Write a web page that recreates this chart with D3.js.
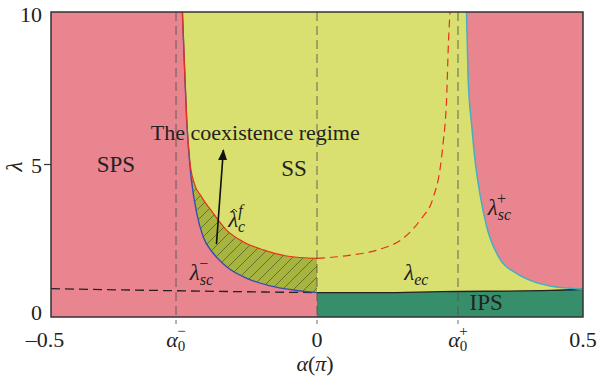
<!DOCTYPE html>
<html lang="en">
<head>
<meta charset="UTF-8">
<title>Phase diagram</title>
<script src="https://d3js.org/d3.v7.min.js"></script>
<style>
  body { margin: 0; background: #fff; }
  text { font-family: "Liberation Serif", "Times New Roman", serif; fill: #222; }
</style>
</head>
<body>
<div id="chart"></div>
<script>
// axis ticks
const alphaTicks = [-0.5, -0.265, 0, 0.265, 0.5];
const alphaTickLabels = ["\u20130.5", "a-", "0", "a+", "0.5"];
const lambdaTicks = [0, 5, 10];

// boundary curves, [alpha, lambda]
const scMinus = [[-0.253, 10], [-0.249, 8.2], [-0.245, 6.5], [-0.240, 5.2], [-0.236, 4.49],
  [-0.226, 3.4], [-0.214, 2.63], [-0.195, 2.09], [-0.170, 1.65], [-0.132, 1.27],
  [-0.088, 1.02], [-0.038, 0.87], [0, 0.8]];
const cfHat = [[-0.253, 10], [-0.249, 8.2], [-0.245, 6.5], [-0.239, 5.1], [-0.231, 4.4],
  [-0.217, 3.94], [-0.195, 3.4], [-0.170, 2.85], [-0.139, 2.47], [-0.101, 2.2],
  [-0.057, 2.0], [0, 1.92]];
const cfHatDashed = [[0, 1.92], [0.06, 2.02], [0.118, 2.22], [0.162, 2.58], [0.194, 3.18],
  [0.219, 3.94], [0.231, 4.82], [0.237, 5.69], [0.244, 7.33], [0.247, 8.97], [0.25, 10]];
const scPlus = [[0.281, 10], [0.284, 7.88], [0.291, 6.24], [0.297, 5.15], [0.306, 4.06],
  [0.319, 2.96], [0.341, 1.98], [0.375, 1.43], [0.407, 1.16], [0.438, 1.02],
  [0.47, 0.95], [0.5, 0.91]];
const ecLine = [[0, 0.8], [0.12, 0.8], [0.23, 0.83], [0.44, 0.87], [0.5, 0.91]];
const ecDashed = [[-0.5, 0.93], [-0.3, 0.87], [-0.1, 0.82], [0, 0.8]];

const width = 598, height = 382;
const margin = { top: 12, right: 15, bottom: 65, left: 51 };

const x = d3.scaleLinear().domain([-0.5, 0.5]).range([margin.left, width - margin.right]);
const y = d3.scaleLinear().domain([0, 10]).range([height - margin.bottom, margin.top]);

const svg = d3.select("#chart").append("svg")
  .attr("width", width).attr("height", height);

const defs = svg.append("defs");
defs.append("clipPath").attr("id", "clip").append("rect")
  .attr("x", x(-0.5)).attr("y", y(10))
  .attr("width", x(0.5) - x(-0.5)).attr("height", y(0) - y(10));

const hatch = defs.append("pattern").attr("id", "hatch")
  .attr("patternUnits", "userSpaceOnUse").attr("width", 11).attr("height", 11);
hatch.append("rect").attr("width", 11).attr("height", 11).attr("fill", "#a8b440");
hatch.append("path").attr("d", "M-3,3 l6,-6 M0,11 l11,-11 M8,14 l6,-6")
  .attr("stroke", "#55611f").attr("stroke-width", 0.8);

const line = d3.line().x(d => x(d[0])).y(d => y(d[1])).curve(d3.curveMonotoneX);
const seg = pts => line(pts).replace(/^M/, "L");

const plot = svg.append("g").attr("clip-path", "url(#clip)");

// SPS background
plot.append("rect")
  .attr("x", x(-0.5)).attr("y", y(10))
  .attr("width", x(0.5) - x(-0.5)).attr("height", y(0) - y(10))
  .attr("fill", "#e9858f");

// SS region
plot.append("path")
  .attr("d", line(scMinus) + seg(ecLine) + seg(scPlus.slice().reverse()) + "Z")
  .attr("fill", "#d9e070");

// coexistence (hatched)
plot.append("path")
  .attr("d", line(cfHat) + seg(scMinus.slice().reverse()) + "Z")
  .attr("fill", "url(#hatch)");

// IPS region
plot.append("path")
  .attr("d", line(ecLine) + seg([[0.5, 0], [0, 0]]) + "Z")
  .attr("fill", "#378e6b");

// vertical guide lines
[alphaTicks[1], alphaTicks[2], alphaTicks[3]].forEach(a => {
  svg.append("line")
    .attr("x1", x(a)).attr("x2", x(a))
    .attr("y1", y(10)).attr("y2", y(0) + 7)
    .attr("stroke", "#555").attr("stroke-opacity", 0.8)
    .attr("stroke-width", 1.1).attr("stroke-dasharray", "9,5");
});

// curves
plot.append("path").attr("d", line(ecDashed)).attr("fill", "none")
  .attr("stroke", "#222").attr("stroke-width", 1.3).attr("stroke-dasharray", "9,5");
plot.append("path").attr("d", line(ecLine)).attr("fill", "none")
  .attr("stroke", "#222").attr("stroke-width", 1.3);
plot.append("path").attr("d", line(scMinus)).attr("fill", "none")
  .attr("stroke", "#3a4cb0").attr("stroke-width", 1.4);
plot.append("path").attr("d", line(cfHat)).attr("fill", "none")
  .attr("stroke", "#e8301e").attr("stroke-width", 1.2);
plot.append("path").attr("d", line(cfHatDashed)).attr("fill", "none")
  .attr("stroke", "#e8301e").attr("stroke-width", 1.2).attr("stroke-dasharray", "8,5");
plot.append("path").attr("d", line(scPlus)).attr("fill", "none")
  .attr("stroke", "#45aec4").attr("stroke-width", 1.5);

// frame
svg.append("rect")
  .attr("x", x(-0.5)).attr("y", y(10))
  .attr("width", x(0.5) - x(-0.5)).attr("height", y(0) - y(10))
  .attr("fill", "none").attr("stroke", "#333").attr("stroke-width", 1.5);

// y ticks
svg.append("line").attr("x1", x(-0.5) - 7).attr("x2", x(-0.5))
  .attr("y1", y(5)).attr("y2", y(5)).attr("stroke", "#333").attr("stroke-width", 1.2);
lambdaTicks.forEach(v => {
  const shift = v === 0 ? -5 : (v === 10 ? 2 : 1);
  svg.append("text").attr("x", x(-0.5) - 9).attr("y", y(v) + shift)
    .attr("dy", "0.35em").attr("text-anchor", "end")
    .attr("font-size", 22).text(v);
});

// x tick labels
alphaTicks.forEach((a, i) => {
  const lab = alphaTickLabels[i];
  const t = svg.append("text").attr("x", x(a) + (i === 0 ? -6 : 0)).attr("y", 347)
    .attr("text-anchor", "middle").attr("font-size", 22);
  if (lab === "a-" || lab === "a+") {
    t.append("tspan").attr("font-style", "italic").text("\u03b1");
    t.append("tspan").attr("font-size", 15).attr("dy", 4).text("0");
    t.append("tspan").attr("font-size", 15).attr("dx", -8).attr("dy", -15)
      .text(lab === "a-" ? "\u2212" : "+");
  } else {
    t.text(lab);
  }
});

// axis titles
const xt = svg.append("text").attr("x", x(0) - 2).attr("y", 371)
  .attr("text-anchor", "middle").attr("font-size", 22);
xt.append("tspan").attr("font-style", "italic").text("\u03b1");
xt.append("tspan").text("(");
xt.append("tspan").attr("font-style", "italic").text("\u03c0");
xt.append("tspan").text(")");

svg.append("text").attr("transform", `translate(22,${y(5) + 2}) rotate(-90)`)
  .attr("text-anchor", "middle").attr("font-size", 23).attr("font-style", "italic")
  .text("\u03bb");

// region labels
const label = (a, l, txt, size) => svg.append("text")
  .attr("x", x(a)).attr("y", y(l)).attr("text-anchor", "middle")
  .attr("font-size", size || 22).text(txt);
label(-0.378, 4.75, "SPS", 23);
label(-0.043, 4.62, "SS", 23);
label(-0.116, 5.8, "The coexistence regime", 22);
label(0.318, 0.23, "IPS", 23);

// lambda labels with sub/superscripts
function lam(a, l, sub, sup, hat) {
  const t = svg.append("text").attr("x", x(a)).attr("y", y(l)).attr("font-size", 23);
  t.append("tspan").attr("font-style", "italic").text("\u03bb");
  t.append("tspan").attr("font-style", "italic").attr("font-size", 16).attr("dy", 5).text(sub);
  if (sup) {
    t.append("tspan").attr("font-size", 16).attr("font-style", sup === "f" ? "italic" : "normal")
      .attr("dx", -sub.length * 7).attr("dy", -16).text(sup);
  }
  if (hat) {
    const hx = x(a) + 6, hy = y(l) - 18;
    svg.append("path").attr("d", `M${hx - 3},${hy + 3} L${hx},${hy} L${hx + 3},${hy + 3}`)
      .attr("fill", "none").attr("stroke", "#222").attr("stroke-width", 1);
  }
}
lam(-0.239, 1.2, "sc", "\u2212");
lam(-0.167, 2.95, "c", "f", true);
lam(0.164, 1.2, "ec");
lam(0.321, 3.34, "sc", "+");

// arrow
defs.append("marker").attr("id", "arrow").attr("viewBox", "0 0 10 10")
  .attr("refX", 9).attr("refY", 5).attr("markerWidth", 7).attr("markerHeight", 7)
  .attr("orient", "auto").append("path").attr("d", "M0,1 L10,5 L0,9 Z").attr("fill", "#111");
svg.append("line")
  .attr("x1", x(-0.189)).attr("y1", y(2.39))
  .attr("x2", x(-0.176)).attr("y2", y(5.47))
  .attr("stroke", "#111").attr("stroke-width", 1.6).attr("marker-end", "url(#arrow)");
</script>
</body>
</html>
